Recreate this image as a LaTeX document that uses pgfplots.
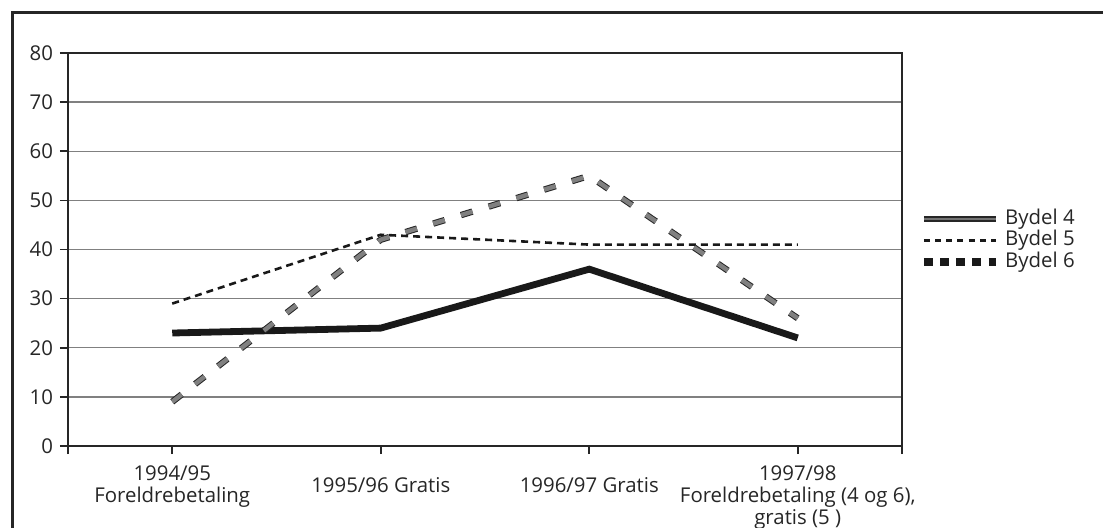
\documentclass[border=0pt]{standalone}
\usepackage{fontspec}
\setmainfont{Open Sans}
\usepackage{pgfplots}
\pgfplotsset{compat=1.18}
\newcommand{\lblfont}{\fontsize{10.2pt}{10.8pt}\selectfont}
\begin{document}
\begin{tikzpicture}
\begin{axis}[
  name=ax, at={(0,0)}, anchor=south west,
  scale only axis, width=417pt, height=196.5pt,
  xmin=-0.5, xmax=3.5, ymin=0, ymax=80,
  xtick={0,1,2,3},
  xticklabels={{1994/95\\[0.2pt]Foreldrebetaling},
               {\rule{0pt}{13pt}1995/96 Gratis},
               {\rule{0pt}{13pt}1996/97 Gratis},
               {1997/98\\[0.2pt]Foreldrebetaling (4 og 6),\\[0.2pt]gratis (5 )}},
  extra x ticks={-0.5,3.5}, extra x tick labels={,},
  ytick={0,10,...,80},
  ymajorgrids, grid style={black!50, line width=0.7pt},
  extra x tick style={grid=none},
  tick align=outside, major tick length=4pt,
  xtick pos=bottom, ytick pos=left,
  tick style={black!85, line width=0.8pt},
  axis line style={black!85, line width=1pt},
  /pgf/number format/assume math mode=true,
  tick label style={font=\lblfont, color=black!85},
  xticklabel style={align=center, yshift=-2.5pt},
  legend style={draw=none, fill=none, font=\lblfont, text=black!85,
     at={(axis description cs:1.0204,0.523)}, anchor=west,
     inner sep=0pt, row sep=0pt,
     nodes={text height=7.5pt, text depth=2.25pt, inner sep=0.5pt},
     /tikz/every odd column/.append style={column sep=2pt}},
  legend cell align=left,
]
\addplot[black!90, line width=3.4pt, line join=miter,
  legend image code/.code={\draw[black!85, line width=0.6pt, double=black!55, double distance=1.4pt] (0pt,0pt) -- (36pt,0pt);}]
  coordinates {(0,23) (1,24) (2,36) (3,22)};
\addlegendentry{Bydel 4}
\addplot[black!90, line width=1.3pt, dash pattern=on 3.5pt off 2.5pt,
  legend image code/.code={\draw[black!90, line width=1.1pt, dash pattern=on 3pt off 2.6pt] (0pt,0pt) -- (36pt,0pt);}]
  coordinates {(0,29) (1,43) (2,41) (3,41)};
\addlegendentry{Bydel 5}
\addplot[black!85, line width=0.5pt, double=black!50, double distance=2.2pt,
  dash pattern=on 6pt off 8.5pt,
  legend image code/.code={\draw[black!90, double distance=0pt, line width=2.2pt, dash pattern=on 4.5pt off 3.6pt] (0pt,0pt) -- (36pt,0pt);}]
  coordinates {(0,9) (1,42) (2,55) (3,26)};
\addlegendentry{Bydel 6}
\end{axis}
\pgfresetboundingbox
\begin{scope}[shift={(ax.south west)}]
\useasboundingbox (-34pt,-40.5pt) rectangle (517.5pt,223pt);
\draw[line width=1.5pt, color=black!85] (-27.5pt,-50pt) -- (-27.5pt,217pt) -- (530pt,217pt);
\end{scope}
\end{tikzpicture}
\end{document}
